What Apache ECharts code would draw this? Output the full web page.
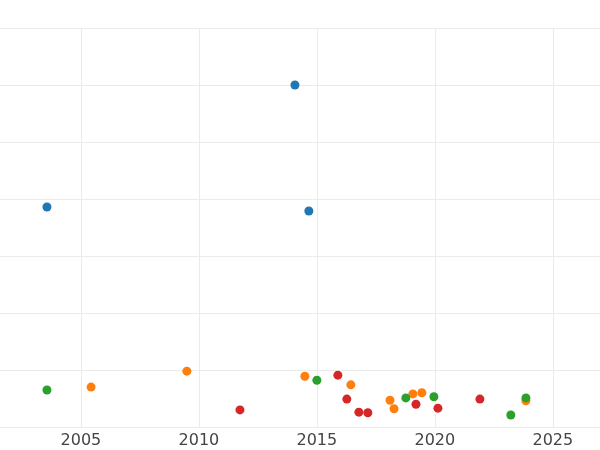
<!DOCTYPE html>
<html>
<head>
<meta charset="utf-8">
<script src="https://cdn.jsdelivr.net/npm/echarts@6/dist/echarts.min.js"></script>
<style>html,body{margin:0;padding:0;background:#fff}#c{width:600px;height:450px}</style>
</head>
<body>
<div id="c"></div>
<script>
// [year, value] per group
var blue = [[2003.56, 3.86], [2014.07, 6.0], [2014.66, 3.79]];
var orange = [[2005.43, 0.70], [2009.49, 0.98], [2014.49, 0.89], [2016.44, 0.74], [2018.1, 0.47],
    [2018.27, 0.32], [2019.07, 0.58], [2019.45, 0.60], [2023.86, 0.46]];
var green = [[2003.56, 0.65], [2015.0, 0.82], [2018.77, 0.51], [2019.96, 0.53], [2023.22, 0.21], [2023.86, 0.51]];
var red = [[2011.74, 0.30], [2015.89, 0.91], [2016.27, 0.49], [2016.78, 0.26], [2017.16, 0.25],
    [2019.2, 0.40], [2020.13, 0.33], [2021.91, 0.49]];
var xTicks = [2005, 2010, 2015, 2020, 2025];

var chart = echarts.init(document.getElementById('c'));

function mk(data, color) {
    return {type: 'scatter', data: data, symbolSize: 9, itemStyle: {color: color, opacity: 1}};
}

chart.setOption({
    animation: false,
    grid: {left: 0, right: 0, top: 28, bottom: 23},
    xAxis: {
        type: 'value', min: 2001.57, max: 2027.0,
        axisLine: {show: false}, axisTick: {show: false},
        splitLine: {lineStyle: {color: '#ebebeb'}},
        axisLabel: {
            color: '#444', fontSize: 16, fontFamily: 'DejaVu Sans', margin: 6,
            customValues: xTicks, formatter: function (v) { return v; }
        },
        axisTick: {show: false, customValues: xTicks}
    },
    yAxis: {
        type: 'value', min: 0, max: 7, interval: 1,
        axisLine: {show: false}, axisTick: {show: false}, axisLabel: {show: false},
        splitLine: {lineStyle: {color: '#ebebeb'}}
    },
    series: [
        mk(blue, '#1f77b4'),
        mk(orange, '#ff7f0e'),
        mk(green, '#2ca02c'),
        mk(red, '#d62728')
    ]
});
</script>
</body>
</html>
